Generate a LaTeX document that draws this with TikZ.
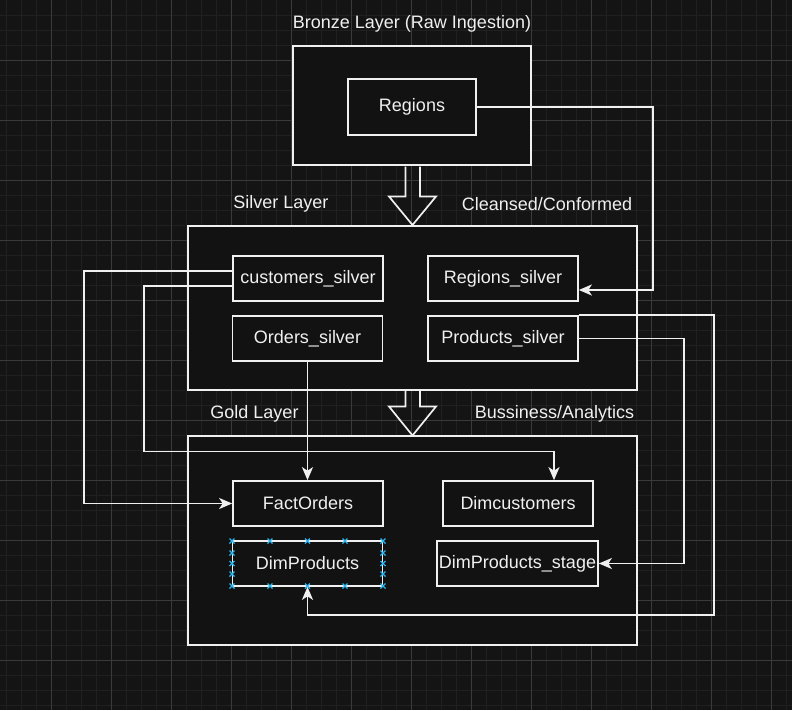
\documentclass[tikz,border=0pt]{standalone}
\usepackage{fontspec}
\setmainfont{Liberation Sans}
\usepackage{tikz}
\usetikzlibrary{arrows.meta}

\definecolor{bgdark}{HTML}{141414}
\definecolor{boxdark}{HTML}{121212}
\definecolor{gridminor}{HTML}{202020}
\definecolor{gridmajor}{HTML}{3A3A3A}
\definecolor{linewhite}{HTML}{F0F0F0}
\definecolor{handleblue}{HTML}{29B6F2}

\begin{document}
\begin{tikzpicture}[
      x=1pt, y=-1pt,
      font=\fontsize{18}{21}\selectfont,
      layer/.style={
        rectangle,
        draw=linewhite,
        line width=1.7pt,
        fill=boxdark
      },
      tbl/.style={
        rectangle,
        draw=linewhite,
        line width=1.7pt,
        fill=boxdark,
        text=linewhite,
        inner sep=1pt,
        minimum width=150pt,
        minimum height=45pt
      },
      caption/.style={text=linewhite, inner sep=0pt},
      link/.style={draw=linewhite, line width=1.7pt, -{Stealth[length=13pt,width=11pt,inset=3.5pt]}},
      blockarrow/.style={draw=linewhite, line width=1.7pt, line join=miter},
      minorgrid/.style={draw=gridminor, line width=1pt},
      majorgrid/.style={draw=gridmajor, line width=1pt}
    ]

    % canvas and grid
    \fill[bgdark] (0,0) rectangle (792,710);
    \useasboundingbox (0,0) rectangle (792,710);
    \foreach \x in {6,21,...,786} \draw[minorgrid] (\x,0) -- (\x,710);
    \foreach \y in {15,30,...,705} \draw[minorgrid] (0,\y) -- (792,\y);
    \foreach \x in {51,111,...,771} \draw[majorgrid] (\x,0) -- (\x,710);
    \foreach \y in {60,120,...,660} \draw[majorgrid] (0,\y) -- (792,\y);

    % layers
    \node [layer, minimum width=238pt, minimum height=119pt] (Bronze) at (412,105.5) {};
    \node [layer, minimum width=449pt, minimum height=164pt] (Silver) at (412.5,308) {};
    \node [layer, minimum width=449pt, minimum height=209pt] (Gold) at (412.5,540.5) {};

    \node [caption] (BronzeLbl) at (412,23.5) {Bronze Layer (Raw Ingestion)};
    \node [caption] (SilverLbl) at (281,204) {Silver Layer};
    \node [caption] (SilverDesc) at (547,204) {Cleansed/Conformed};
    \node [caption] (GoldLbl) at (254.5,414) {Gold Layer};
    \node [caption] (GoldDesc) at (554.5,414) {Bussiness/Analytics};

    % block arrows between layers
    \draw[blockarrow] (405.5,166.5) -- (405.5,196.5) -- (389,196.5) -- (412.5,225) -- (436,196.5) -- (420,196.5) -- (420,166.5);
    \draw[blockarrow] (405.5,391) -- (405.5,406.5) -- (389,406.5) -- (412.5,435.5) -- (436,406.5) -- (420,406.5) -- (420,391);

    % tables
    \node [tbl, minimum width=128pt, minimum height=56pt] (Regions) at (412,107) {Regions};

    \node [tbl] (CustSilver) at (308,278.5) {customers\_silver};
    \node [tbl] (OrdSilver) at (307.5,338.5) {Orders\_silver};
    \node [tbl] (RegSilver) at (503,278.5) {Regions\_silver};
    \node [tbl] (ProdSilver) at (503,338.5) {Products\_silver};

    \node [tbl] (FactOrders) at (308,503.5) {FactOrders};
    \node [tbl] (DimCust) at (518,503.5) {Dimcustomers};
    \node [tbl] (DimProd) at (307.5,563.5) {DimProducts};
    \node [tbl, minimum width=161pt] (DimProdStage) at (517.5,563.5) {DimProducts\_stage};

    % selection handles on DimProducts
    \foreach \hx/\hy in {232/541,270/541,307.5/541,345/541,383/541,
                         232/586,270/586,307.5/586,345/586,383/586,
                         232/553,232/563.5,232/574,383/553,383/563.5,383/574}
      \draw[handleblue, line width=1.3pt] (\hx-2.5,\hy-2.5) -- (\hx+2.5,\hy+2.5) (\hx-2.5,\hy+2.5) -- (\hx+2.5,\hy-2.5);

    % connectors
    \coordinate (RegBend) at (653,290);
    \coordinate (CustBendA) at (84,503.5);
    \coordinate (CustBendB) at (144,451.5);
    \coordinate (ProdBendA) at (684,563.5);
    \coordinate (ProdBendB) at (714,615);

    \draw[link] (Regions.east) -| (RegBend) -- (RegBend -| RegSilver.east);
    \draw[link] ([yshift=7.5pt]CustSilver.west) -| (CustBendA) -- (FactOrders.west);
    \draw[link] ([yshift=-7.5pt]CustSilver.west) -| (CustBendB) -| ([xshift=36pt]DimCust.north);
    \draw[link] (OrdSilver.south) -- (OrdSilver.south |- FactOrders.north);
    \draw[link] (ProdSilver.east) -| (ProdBendA) -- (DimProdStage.east);
    \draw[link] (ProdSilver.north east) -| (ProdBendB) -| (DimProd.south);

    \end{tikzpicture}
\end{document}
